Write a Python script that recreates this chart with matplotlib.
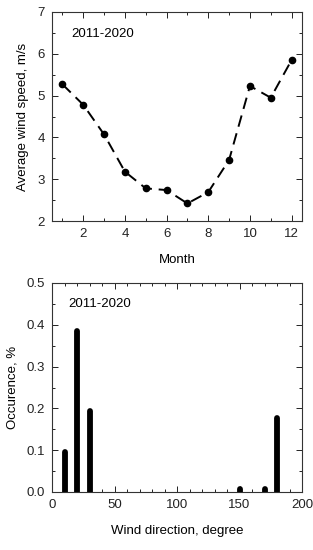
import numpy as np
import matplotlib.pyplot as plt
from matplotlib.ticker import MultipleLocator

plt.rcParams['font.family'] = ['Liberation Sans', 'DejaVu Sans']
plt.rcParams['font.size'] = 9.5

# средняя скорость ветра по месяцам
months = np.arange(1, 13)
wind_speed = [5.27, 4.78, 4.07, 3.18, 2.78, 2.74, 2.42, 2.69, 3.46, 5.23, 4.95, 5.85]

# повторяемость направлений ветра
directions = [10, 20, 30, 150, 170, 180]
occurence = [0.096, 0.386, 0.194, 0.006, 0.006, 0.178]

period = '2011-2020'

fig = plt.figure(figsize=(3.13, 5.5), dpi=100)
ax1 = fig.add_axes([52 / 313, 1 - 221 / 550, 250 / 313, 209 / 550])
ax2 = fig.add_axes([52 / 313, 1 - 492 / 550, 250 / 313, 209 / 550])

ax1.plot(months, wind_speed, 'k-', marker='o', markersize=4.5, linewidth=1.4,
         dashes=(6, 3.5))
ax1.set_xlim(0.5, 12.5)
ax1.set_ylim(2, 7)
ax1.xaxis.set_major_locator(MultipleLocator(2))
ax1.xaxis.set_minor_locator(MultipleLocator(1))
ax1.yaxis.set_major_locator(MultipleLocator(1))
ax1.yaxis.set_minor_locator(MultipleLocator(0.5))
ax1.set_xlabel('Month', labelpad=10)
ax1.set_ylabel('Average wind speed, m/s', labelpad=6)
ax1.text(1.45, 6.47, period, va='center')

ax2.vlines(directions, 0, occurence, colors='k', linewidth=4.2, capstyle='round')
ax2.set_xlim(0, 200)
ax2.set_ylim(0, 0.5)
ax2.xaxis.set_major_locator(MultipleLocator(50))
ax2.xaxis.set_minor_locator(MultipleLocator(10))
ax2.yaxis.set_major_locator(MultipleLocator(0.1))
ax2.yaxis.set_minor_locator(MultipleLocator(0.05))
ax2.yaxis.set_major_formatter(plt.FormatStrFormatter('%.1f'))
ax2.set_xlabel('Wind direction, degree', labelpad=10)
ax2.set_ylabel('Occurence, %', labelpad=6)
ax2.text(13, 0.45, period, va='center')

for ax in (ax1, ax2):
    ax.tick_params(which='both', direction='in', top=True, right=True, colors='#222222')
    ax.tick_params(which='major', length=4, width=0.7, pad=5)
    ax.tick_params(which='minor', length=2.5, width=0.7)
    for s in ax.spines.values():
        s.set_linewidth(0.8)
        s.set_color('#333333')
    for lbl in ax.get_yticklabels() + ax.get_xticklabels():
        lbl.set_fontsize(9.5)

fig.savefig('out.png', dpi=100)
